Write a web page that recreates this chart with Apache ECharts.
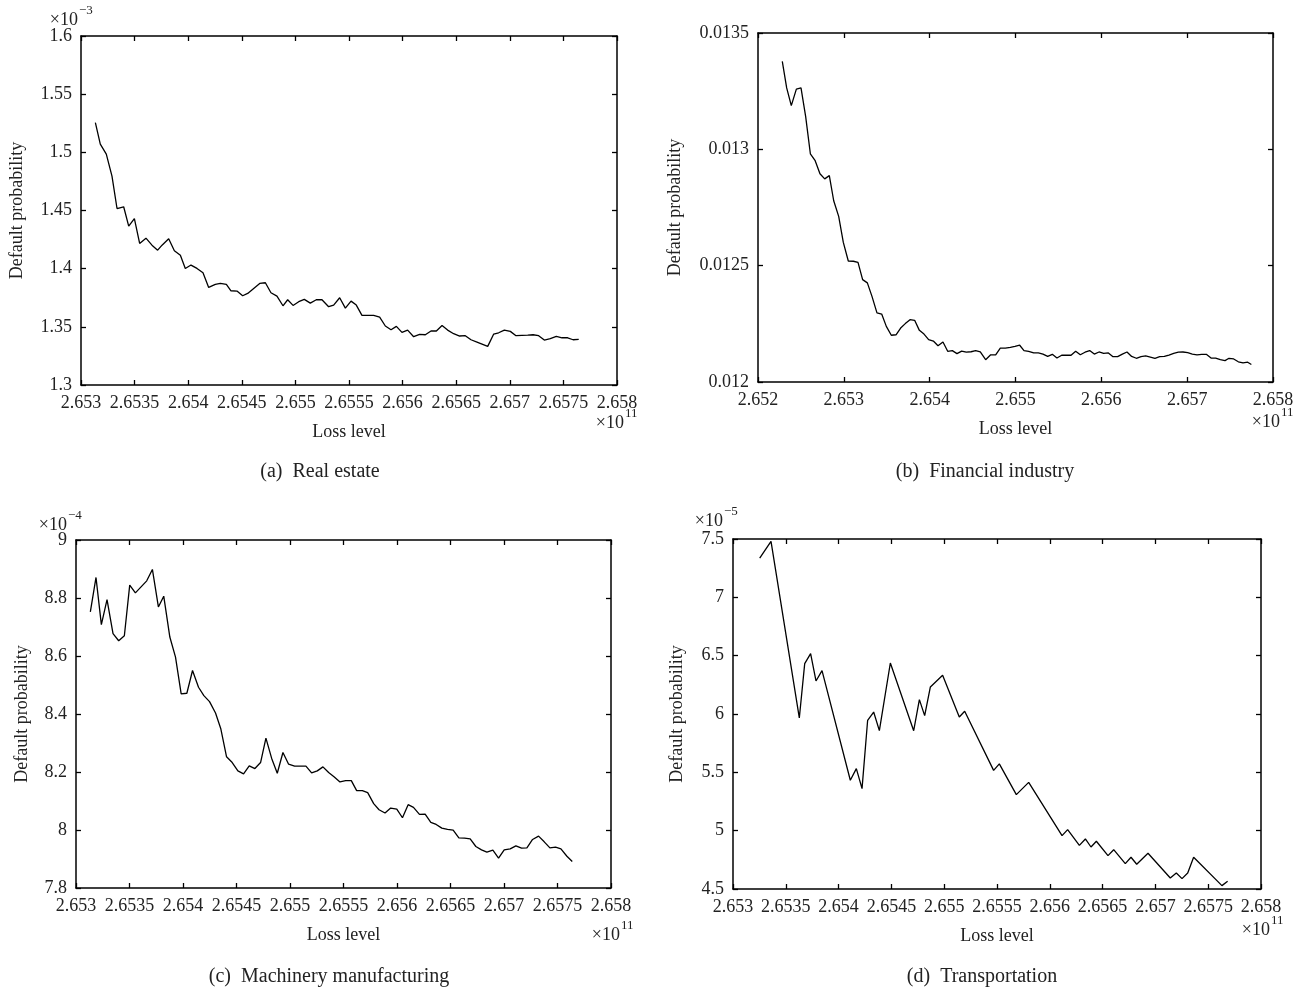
<!DOCTYPE html>
<html>
<head>
<meta charset="utf-8">
<script src="https://cdn.jsdelivr.net/npm/echarts@6/dist/echarts.min.js"></script>
<style>
html, body { margin: 0; padding: 0; background: #fff; }
#chart { width: 1311px; height: 990px; }
</style>
</head>
<body>
<div id="chart"></div>
<script>
// loss level in units of 1e11, probability in the units shown on each y axis
const realEstateLoss = [2.653134, 2.653180, 2.653236, 2.653289, 2.653336, 2.653398, 2.653445, 2.653498, 2.653547, 2.653606,
  2.653662, 2.653715, 2.653756, 2.653818, 2.653871, 2.653927, 2.653973, 2.654026, 2.654082, 2.654138,
  2.654191, 2.654253, 2.654300, 2.654356, 2.654399, 2.654455, 2.654508, 2.654555, 2.654611, 2.654667,
  2.654720, 2.654772, 2.654828, 2.654884, 2.654928, 2.654978, 2.655031, 2.655083, 2.655139, 2.655195,
  2.655248, 2.655310, 2.655357, 2.655413, 2.655466, 2.655519, 2.655568, 2.655621, 2.655674, 2.655730,
  2.655786, 2.655839, 2.655892, 2.655942, 2.655994, 2.656047, 2.656103, 2.656159, 2.656212, 2.656265,
  2.656315, 2.656368, 2.656420, 2.656476, 2.656532, 2.656585, 2.656638, 2.656694, 2.656741, 2.656794,
  2.656850, 2.656896, 2.656949, 2.657005, 2.657058, 2.657114, 2.657167, 2.657217, 2.657269, 2.657322,
  2.657378, 2.657434, 2.657487, 2.657540, 2.657590, 2.657643];
// x 1e-3
const realEstateProb = [1.5256, 1.5070, 1.4984, 1.4795, 1.4517, 1.4532, 1.4365, 1.4431, 1.4217, 1.4262,
  1.4202, 1.4159, 1.4202, 1.4257, 1.4154, 1.4116, 1.4002, 1.4031, 1.4002, 1.3965,
  1.3839, 1.3865, 1.3873, 1.3865, 1.3810, 1.3807, 1.3767, 1.3787, 1.3830, 1.3873,
  1.3879, 1.3793, 1.3764, 1.3681, 1.3733, 1.3684, 1.3716, 1.3736, 1.3704, 1.3733,
  1.3733, 1.3673, 1.3687, 1.3750, 1.3661, 1.3721, 1.3687, 1.3598, 1.3598, 1.3598,
  1.3584, 1.3507, 1.3475, 1.3504, 1.3452, 1.3472, 1.3415, 1.3435, 1.3432, 1.3464,
  1.3464, 1.3512, 1.3472, 1.3441, 1.3421, 1.3424, 1.3389, 1.3369, 1.3352, 1.3332,
  1.3438, 1.3449, 1.3472, 1.3461, 1.3424, 1.3427, 1.3429, 1.3432, 1.3424, 1.3386,
  1.3398, 1.3418, 1.3406, 1.3406, 1.3389, 1.3392];

const financialLoss = [2.652283, 2.652334, 2.652388, 2.652447, 2.652501, 2.652555, 2.652610, 2.652664, 2.652722, 2.652777,
  2.652831, 2.652882, 2.652940, 2.652994, 2.653052, 2.653111, 2.653165, 2.653219, 2.653274, 2.653328,
  2.653386, 2.653441, 2.653495, 2.653553, 2.653608, 2.653662, 2.653716, 2.653771, 2.653825, 2.653880,
  2.653934, 2.653988, 2.654043, 2.654097, 2.654155, 2.654210, 2.654264, 2.654318, 2.654373, 2.654427,
  2.654482, 2.654536, 2.654590, 2.654652, 2.654711, 2.654769, 2.654823, 2.654882, 2.654940, 2.654994,
  2.655049, 2.655099, 2.655153, 2.655212, 2.655266, 2.655320, 2.655375, 2.655429, 2.655483, 2.655538,
  2.655592, 2.655647, 2.655701, 2.655755, 2.655810, 2.655864, 2.655918, 2.655973, 2.656027, 2.656082,
  2.656136, 2.656190, 2.656245, 2.656299, 2.656353, 2.656408, 2.656462, 2.656517, 2.656571, 2.656625,
  2.656680, 2.656734, 2.656788, 2.656843, 2.656897, 2.656951, 2.657006, 2.657060, 2.657115, 2.657169,
  2.657223, 2.657278, 2.657332, 2.657386, 2.657441, 2.657487, 2.657542, 2.657596, 2.657651, 2.657705,
  2.657748];
const financialProb = [0.013378, 0.013264, 0.013188, 0.013259, 0.013264, 0.013142, 0.012981, 0.012953, 0.012895, 0.012873,
  0.012887, 0.012779, 0.012712, 0.012600, 0.012520, 0.012519, 0.012514, 0.012440, 0.012426, 0.012368,
  0.012297, 0.012292, 0.012239, 0.012201, 0.012203, 0.012232, 0.012251, 0.012268, 0.012265, 0.012222,
  0.012206, 0.012182, 0.012176, 0.012156, 0.012172, 0.012132, 0.012135, 0.012122, 0.012133, 0.012128,
  0.012130, 0.012135, 0.012129, 0.012096, 0.012117, 0.012117, 0.012146, 0.012146, 0.012149, 0.012153,
  0.012158, 0.012135, 0.012132, 0.012125, 0.012125, 0.012120, 0.012110, 0.012119, 0.012103, 0.012115,
  0.012115, 0.012115, 0.012132, 0.012117, 0.012128, 0.012135, 0.012120, 0.012129, 0.012123, 0.012125,
  0.012109, 0.012109, 0.012120, 0.012129, 0.012110, 0.012102, 0.012109, 0.012112, 0.012107, 0.012102,
  0.012109, 0.012110, 0.012116, 0.012123, 0.012128, 0.012129, 0.012126, 0.012120, 0.012117, 0.012119,
  0.012119, 0.012103, 0.012103, 0.012096, 0.012092, 0.012102, 0.012099, 0.012087, 0.012082, 0.012085,
  0.012075];

const machineryLoss = [2.653134, 2.653187, 2.653237, 2.653290, 2.653346, 2.653399, 2.653452, 2.653502, 2.653555, 2.653608,
  2.653661, 2.653714, 2.653770, 2.653820, 2.653877, 2.653930, 2.653983, 2.654036, 2.654089, 2.654145,
  2.654195, 2.654248, 2.654304, 2.654354, 2.654407, 2.654460, 2.654513, 2.654566, 2.654619, 2.654672,
  2.654725, 2.654775, 2.654828, 2.654881, 2.654934, 2.654987, 2.655043, 2.655093, 2.655149, 2.655202,
  2.655255, 2.655308, 2.655361, 2.655414, 2.655467, 2.655520, 2.655573, 2.655623, 2.655676, 2.655726,
  2.655782, 2.655832, 2.655888, 2.655941, 2.655998, 2.656051, 2.656104, 2.656154, 2.656210, 2.656263,
  2.656316, 2.656366, 2.656419, 2.656472, 2.656525, 2.656578, 2.656631, 2.656684, 2.656737, 2.656790,
  2.656840, 2.656896, 2.656949, 2.657002, 2.657058, 2.657111, 2.657164, 2.657214, 2.657267, 2.657323,
  2.657376, 2.657429, 2.657482, 2.657532, 2.657588, 2.657638];
// x 1e-4
const machineryProb = [8.7519, 8.8708, 8.7081, 8.7946, 8.6769, 8.6527, 8.6700, 8.8442, 8.8177, 8.8385,
  8.8592, 8.8985, 8.7692, 8.8062, 8.6654, 8.5962, 8.4692, 8.4715, 8.5500, 8.4923,
  8.4635, 8.4427, 8.4035, 8.3481, 8.2523, 8.2327, 8.2038, 8.1935, 8.2212, 8.2119,
  8.2327, 8.3169, 8.2477, 8.1958, 8.2673, 8.2269, 8.2200, 8.2200, 8.2200, 8.1969,
  8.2038, 8.2177, 8.1981, 8.1831, 8.1658, 8.1704, 8.1704, 8.1358, 8.1358, 8.1288,
  8.0908, 8.0700, 8.0585, 8.0758, 8.0723, 8.0423, 8.0873, 8.0781, 8.0538, 8.0550,
  8.0262, 8.0192, 8.0065, 8.0019, 7.9996, 7.9731, 7.9719, 7.9696, 7.9431, 7.9315,
  7.9235, 7.9304, 7.9027, 7.9315, 7.9350, 7.9454, 7.9373, 7.9385, 7.9673, 7.9788,
  7.9592, 7.9385, 7.9408, 7.9350, 7.9096, 7.8912];

const transportLoss = [2.653253, 2.653360, 2.653628, 2.653679, 2.653735, 2.653786, 2.653843, 2.654111, 2.654168, 2.654222,
  2.654275, 2.654332, 2.654386, 2.654490, 2.654711, 2.654765, 2.654815, 2.654869, 2.654985, 2.655143,
  2.655194, 2.655468, 2.655522, 2.655683, 2.655800, 2.656116, 2.656169, 2.656280, 2.656337, 2.656390,
  2.656441, 2.656551, 2.656605, 2.656715, 2.656769, 2.656823, 2.656930, 2.657141, 2.657198, 2.657252,
  2.657306, 2.657362, 2.657630, 2.657684];
// x 1e-5
const transportProb = [7.337, 7.480, 5.966, 6.432, 6.517, 6.283, 6.372, 5.432, 5.532, 5.360,
  5.946, 6.017, 5.857, 6.437, 5.857, 6.123, 5.986, 6.232, 6.332, 5.974,
  6.023, 5.517, 5.572, 5.309, 5.414, 4.957, 5.009, 4.874, 4.929, 4.860,
  4.909, 4.786, 4.837, 4.717, 4.772, 4.712, 4.806, 4.594, 4.637, 4.589,
  4.637, 4.772, 4.529, 4.566];

const captions = ['(a)  Real estate', '(b)  Financial industry', '(c)  Machinery manufacturing', '(d)  Transportation'];

const FONT = '"Liberation Serif", "DejaVu Serif", serif';
const TEXT = '#222';

const fmt = v => String(+v.toFixed(4));

function axisPair(dim, gridIndex, min, max, interval, name, nameGap) {
  const line = { show: true, onZero: false, lineStyle: { color: '#000', width: 1.5 } };
  const tick = { show: true, inside: true, length: 5, lineStyle: { color: '#000', width: 1.3 } };
  const main = {
    type: 'value', gridIndex, min, max, interval,
    position: dim === 'x' ? 'bottom' : 'left',
    name, nameLocation: 'middle', nameGap,
    nameTextStyle: { fontFamily: FONT, fontSize: 18, color: TEXT },
    axisLine: line, axisTick: tick,
    axisLabel: { margin: 9, fontFamily: FONT, fontSize: 18, color: TEXT, formatter: fmt, hideOverlap: false, showMinLabel: true, showMaxLabel: true },
    splitLine: { show: false }
  };
  const mirror = {
    type: 'value', gridIndex, min, max, interval,
    position: dim === 'x' ? 'top' : 'right',
    axisLine: line, axisTick: tick,
    axisLabel: { show: false },
    splitLine: { show: false }
  };
  return [main, mirror];
}

const grids = [
  { left: 81, top: 36, width: 536, height: 349 },
  { left: 758, top: 33, width: 515, height: 349 },
  { left: 76, top: 540, width: 535, height: 348 },
  { left: 733, top: 539, width: 528, height: 350 }
];

const xAxes = [
  ...axisPair('x', 0, 2.653, 2.658, 0.0005, 'Loss level', 38),
  ...axisPair('x', 1, 2.652, 2.658, 0.001, 'Loss level', 38),
  ...axisPair('x', 2, 2.653, 2.658, 0.0005, 'Loss level', 38),
  ...axisPair('x', 3, 2.653, 2.658, 0.0005, 'Loss level', 38)
];
const yAxes = [
  ...axisPair('y', 0, 1.3, 1.6, 0.05, 'Default probability', 55),
  ...axisPair('y', 1, 0.012, 0.0135, 0.0005, 'Default probability', 74),
  ...axisPair('y', 2, 7.8, 9, 0.2, 'Default probability', 45),
  ...axisPair('y', 3, 4.5, 7.5, 0.5, 'Default probability', 47)
];

const panels = [
  [realEstateLoss, realEstateProb],
  [financialLoss, financialProb],
  [machineryLoss, machineryProb],
  [transportLoss, transportProb]
];

const series = panels.map(([xs, ys], i) => ({
  type: 'line',
  xAxisIndex: i * 2,
  yAxisIndex: i * 2,
  data: xs.map((x, k) => [x, ys[k]]),
  showSymbol: false,
  symbol: 'none',
  lineStyle: { color: '#000', width: 1.3 },
  silent: true
}));

function txt(text, x, y, size, align, vAlign) {
  return {
    type: 'text', x, y, silent: true,
    style: { text, fill: TEXT, font: size + 'px ' + FONT, textAlign: align || 'left', textVerticalAlign: vAlign || 'middle' }
  };
}

const graphic = [
  // y multipliers
  txt('×10', 78, 20, 18, 'right'), txt('−3', 79, 11, 13),
  txt('×10', 67, 525, 18, 'right'), txt('−4', 68, 516, 13),
  txt('×10', 723, 521, 18, 'right'), txt('−5', 724, 512, 13),
  // x multipliers
  txt('×10', 624, 423, 18, 'right'), txt('11', 625, 414, 13),
  txt('×10', 1280, 422, 18, 'right'), txt('11', 1281, 413, 13),
  txt('×10', 620, 935, 18, 'right'), txt('11', 621, 926, 13),
  txt('×10', 1270, 930, 18, 'right'), txt('11', 1271, 921, 13),
  // captions
  txt(captions[0], 320, 472, 20, 'center'),
  txt(captions[1], 985, 472, 20, 'center'),
  txt(captions[2], 329, 977, 20, 'center'),
  txt(captions[3], 982, 977, 20, 'center')
];

const chart = echarts.init(document.getElementById('chart'));
chart.setOption({
  animation: false,
  backgroundColor: '#fff',
  grid: grids.map(g => ({ ...g, containLabel: false, outerBoundsMode: 'none' })),
  xAxis: xAxes,
  yAxis: yAxes,
  series,
  graphic
});
</script>
</body>
</html>
